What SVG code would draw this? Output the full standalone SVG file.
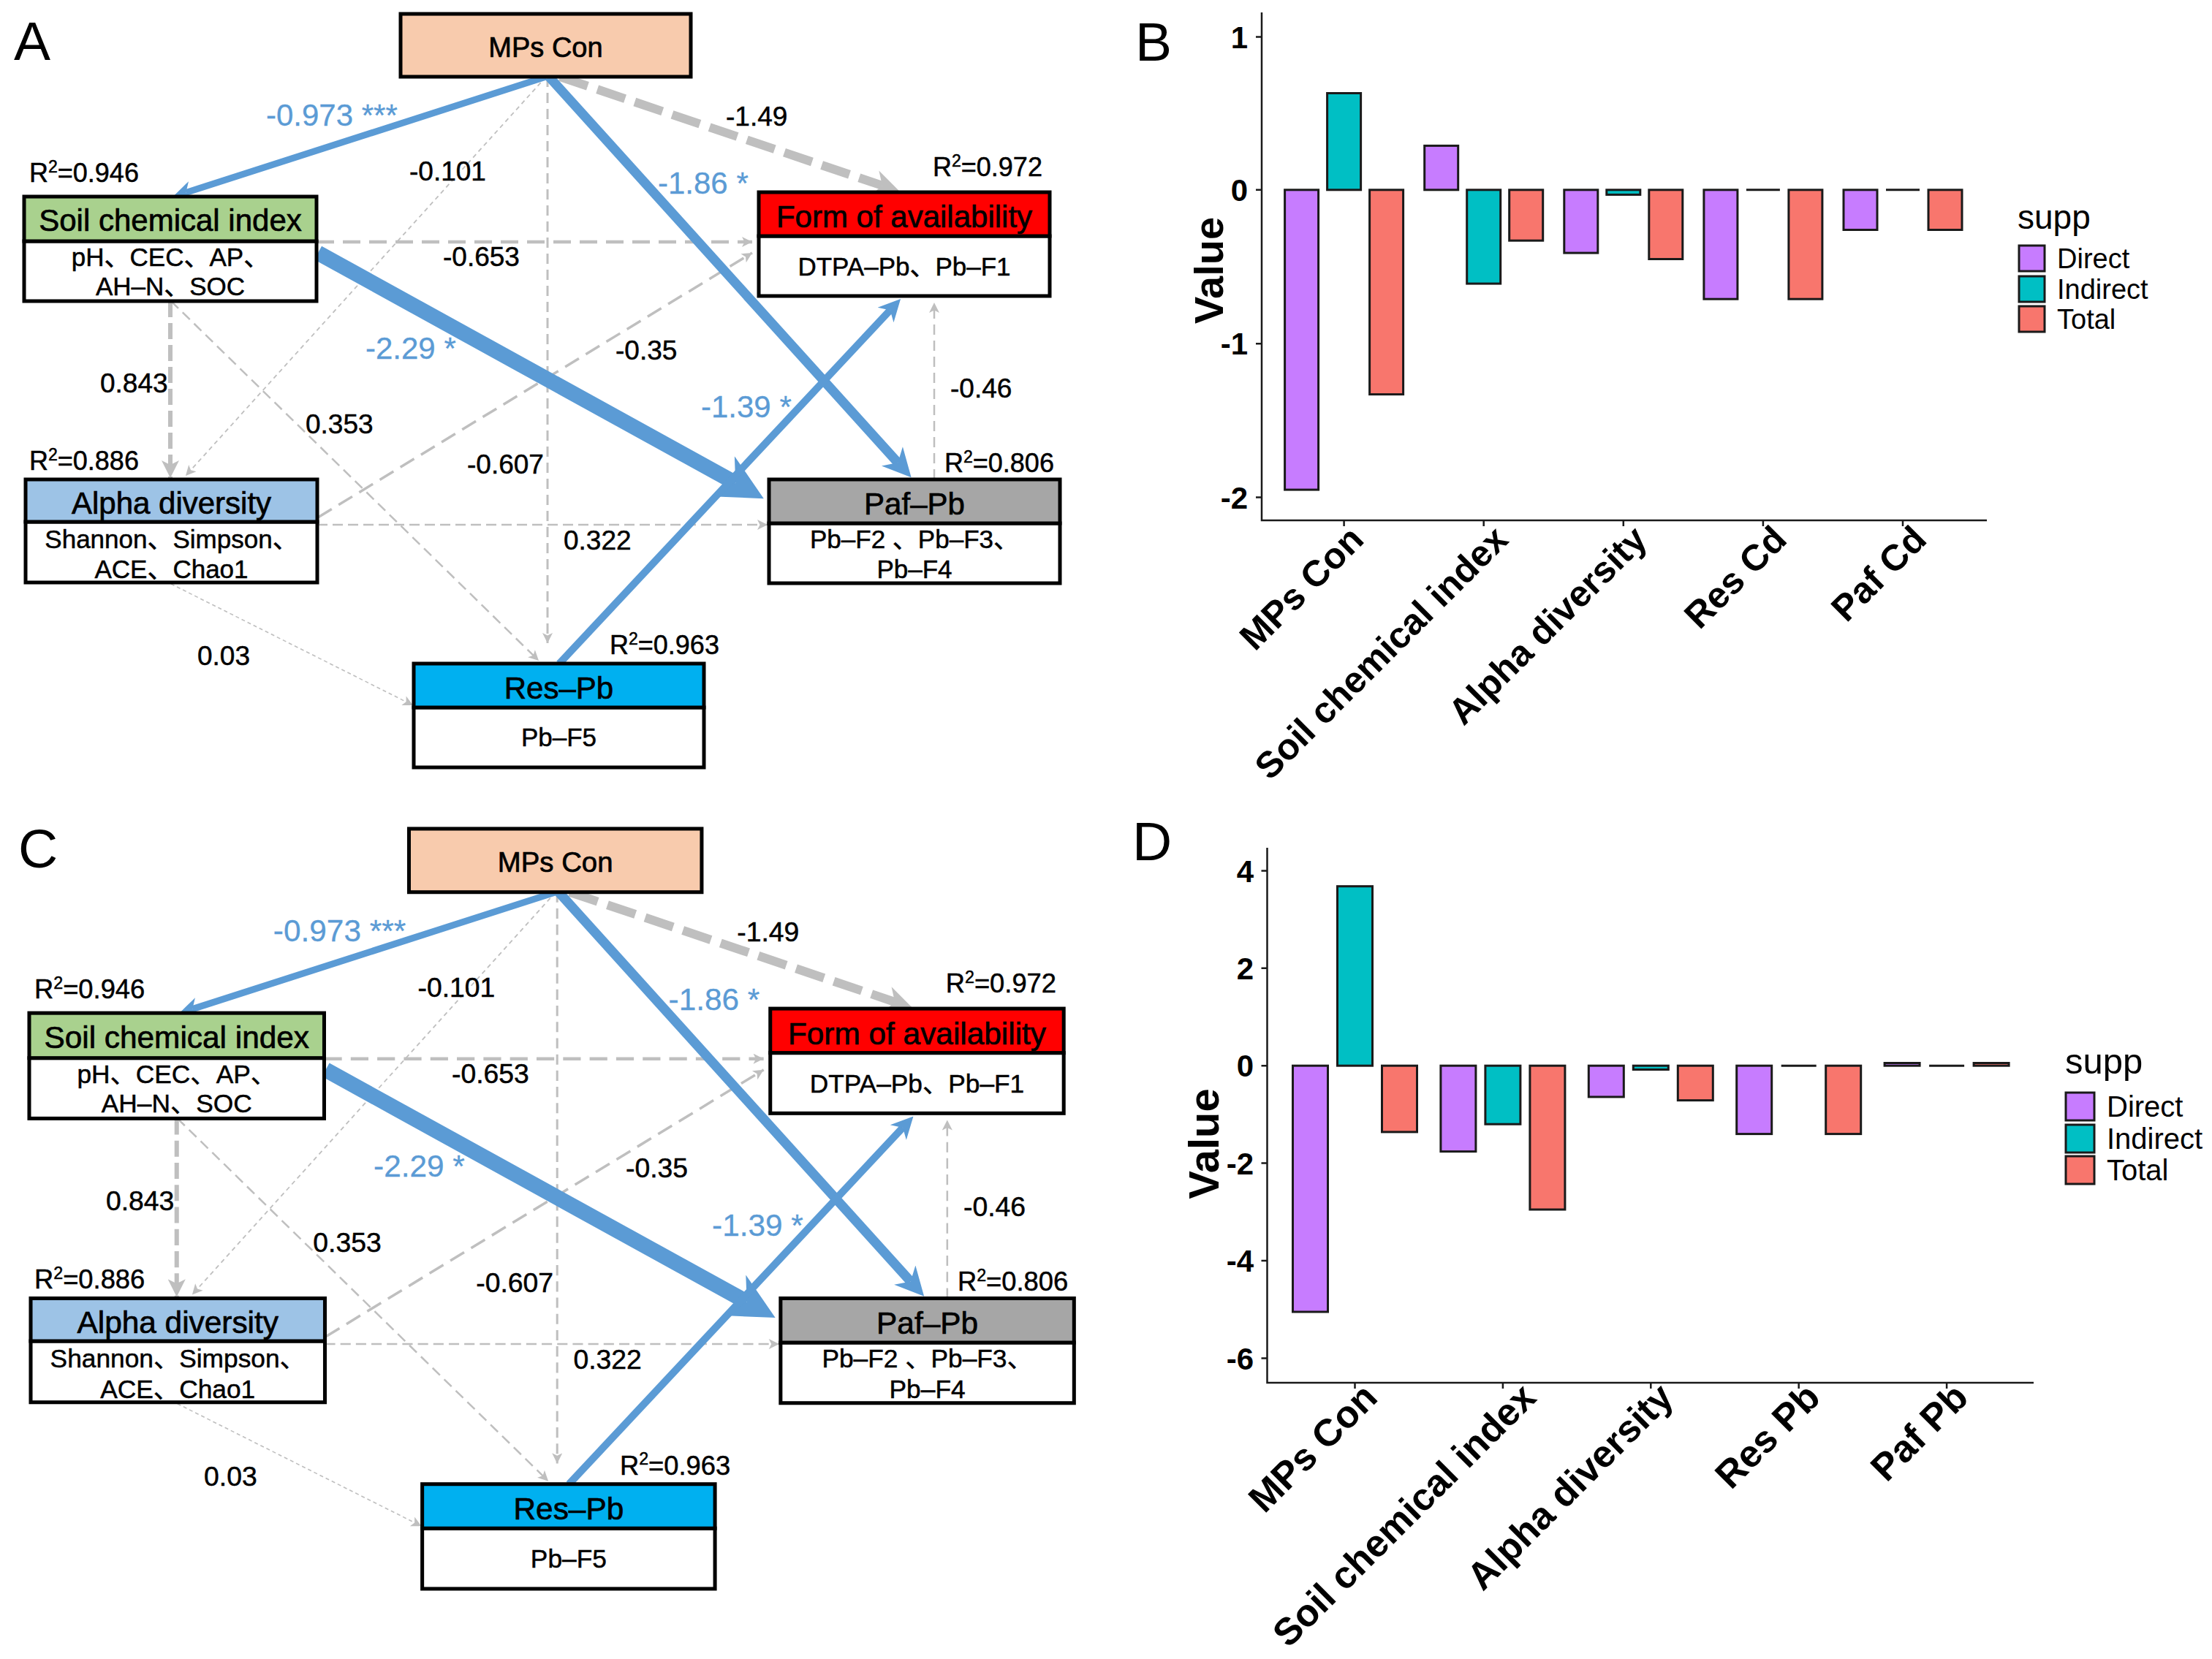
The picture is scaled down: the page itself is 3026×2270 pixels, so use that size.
<svg xmlns="http://www.w3.org/2000/svg" width="3026" height="2270" viewBox="0 0 3026 2270">
<defs>
<style>
.t{font-family:"Liberation Sans","Noto Sans CJK SC",sans-serif;fill:#000}
.hd{font-size:42px;text-anchor:middle;stroke:#000;stroke-width:0.7}
.sb{font-size:35px;text-anchor:middle;stroke:#000;stroke-width:0.5}
.lb{font-size:37px;stroke:#000;stroke-width:0.5}
.r2{font-size:36px;stroke:#000;stroke-width:0.5}
.bl{font-size:42px;fill:#5B9BD5;stroke:#5B9BD5;stroke-width:0.3}
.nb{stroke:#000;stroke-width:5}
.eb{fill:none;stroke:#5B9BD5;marker-end:url(#mb)}
.eg{fill:none;stroke:#BFBFBF}
.ax{fill:none;stroke:#1a1a1a;stroke-width:2.5}
.bar{stroke:#1a1a1a;stroke-width:3}
.d{fill:#C77CFF}.i{fill:#00BFC4}.o{fill:#F8766D}
.ct{font-family:"Liberation Sans",Arial,sans-serif;font-weight:bold;fill:#000}
.lg{font-family:"Liberation Sans",Arial,sans-serif;fill:#000}
.pl{font-family:"Liberation Sans",Arial,sans-serif;font-size:75px;fill:#000}
</style>
<marker id="mb" viewBox="0 0 10 10" refX="3" refY="5" markerWidth="3.4" markerHeight="3" orient="auto" markerUnits="strokeWidth"><path d="M0,0L10,5L0,10L3,5z" fill="#5B9BD5"/></marker>
<marker id="mg" viewBox="0 0 10 10" refX="3" refY="5" markerWidth="3.4" markerHeight="3" orient="auto" markerUnits="strokeWidth"><path d="M0,0L10,5L0,10L3,5z" fill="#BFBFBF"/></marker>
<marker id="ms" viewBox="0 0 10 10" refX="10" refY="5" markerWidth="17" markerHeight="14" orient="auto" markerUnits="userSpaceOnUse"><path d="M0,0L10,5L0,10L2.5,5z" fill="#BFBFBF"/></marker>
<marker id="mm" viewBox="0 0 10 10" refX="10" refY="5" markerWidth="28" markerHeight="24" orient="auto" markerUnits="userSpaceOnUse"><path d="M0,0L10,5L0,10L2.5,5z" fill="#BFBFBF"/></marker>
</defs>
<rect width="3026" height="2270" fill="#fff"/>

<!-- Panel letters -->
<text class="pl" x="19" y="82">A</text>
<text class="pl" x="1553" y="83">B</text>
<text class="pl" x="25" y="1187">C</text>
<text class="pl" x="1549" y="1177">D</text>

<!-- ============ Panel A ============ -->
<g id="panelA">
<g id="A-connectors">
<path id="A-e-mps-res" class="eg" d="M749,105V880" stroke-width="3" stroke-dasharray="14 8" marker-end="url(#ms)"/>
<path id="A-e-mps-alpha" class="eg" d="M747,105L254,651" stroke-width="1.8" stroke-dasharray="6 5" marker-end="url(#ms)"/>
<path id="A-e-soil-form" class="eg" d="M433,331H1029" stroke-width="4.5" stroke-dasharray="24 12" marker-end="url(#ms)"/>
<path id="A-e-soil-alpha" class="eg" d="M233,412V654" stroke-width="6" stroke-dasharray="22 8" marker-end="url(#mm)"/>
<path id="A-e-soil-res" class="eg" d="M234,412L737,904" stroke-width="2.5" stroke-dasharray="14 8" marker-end="url(#ms)"/>
<path id="A-e-alpha-form" class="eg" d="M435,708L1029,346" stroke-width="3.5" stroke-dasharray="22 11" marker-end="url(#ms)"/>
<path id="A-e-alpha-paf" class="eg" d="M434,718H1050" stroke-width="2.5" stroke-dasharray="14 7" marker-end="url(#ms)"/>
<path id="A-e-alpha-res" class="eg" d="M234,799L565,965" stroke-width="1.6" stroke-dasharray="5 4" marker-end="url(#ms)"/>
<path id="A-e-paf-form" class="eg" d="M1278,656V414" stroke-width="2.5" stroke-dasharray="14 8" marker-end="url(#ms)"/>
<path id="A-e-mps-form" class="eg" d="M766,105L1206.9,253.9" stroke-width="12" stroke-dasharray="40 14" marker-end="url(#mg)"/>
<path id="A-e-mps-soil" class="eb" d="M747,105L254.4,263.5" stroke-width="9"/>
<path id="A-e-mps-paf" class="eb" d="M751,105L1228.3,633.1" stroke-width="13"/>
<path id="A-e-soil-paf" class="eb" d="M435,346L1006.2,660.9" stroke-width="21"/>
<path id="A-e-res-form" class="eb" d="M765,908L1217.7,424.4" stroke-width="10"/>
</g>
<g id="A-mps"><rect class="nb" x="548" y="19" width="397" height="86" fill="#F8CBAD"/><text class="t hd" x="746.5" y="78" style="font-size:38px">MPs Con</text></g>
<g id="A-soil"><rect class="nb" x="33" y="330" width="400" height="82" fill="#fff"/><rect class="nb" x="33" y="269" width="400" height="61" fill="#A9D18E"/><text class="t hd" x="233" y="316">Soil chemical index</text><text class="t sb" x="233" y="364">pH、CEC、AP、</text><text class="t sb" x="233" y="404">AH–N、SOC</text></g>
<g id="A-form"><rect class="nb" x="1038" y="323" width="398" height="82" fill="#fff"/><rect class="nb" x="1038" y="263" width="398" height="60" fill="#FF0000"/><text class="t hd" x="1237" y="311">Form of availability</text><text class="t sb" x="1237" y="377">DTPA–Pb、Pb–F1</text></g>
<g id="A-alpha"><rect class="nb" x="35" y="714" width="399" height="83" fill="#fff"/><rect class="nb" x="35" y="656" width="399" height="58" fill="#9DC3E6"/><text class="t hd" x="234.5" y="703">Alpha diversity</text><text class="t sb" x="234.5" y="750">Shannon、Simpson、</text><text class="t sb" x="234.5" y="791">ACE、Chao1</text></g>
<g id="A-paf"><rect class="nb" x="1052" y="716" width="398" height="82" fill="#fff"/><rect class="nb" x="1052" y="656" width="398" height="60" fill="#A6A6A6"/><text class="t hd" x="1251" y="704">Paf–Pb</text><text class="t sb" x="1251" y="750">Pb–F2 、Pb–F3、</text><text class="t sb" x="1251" y="791">Pb–F4</text></g>
<g id="A-res"><rect class="nb" x="566" y="968" width="397" height="82" fill="#fff"/><rect class="nb" x="566" y="908" width="397" height="60" fill="#00B0F0"/><text class="t hd" x="764.5" y="956">Res–Pb</text><text class="t sb" x="764.5" y="1021">Pb–F5</text></g>
<g id="A-labels">
<text class="t lb" x="993" y="172">-1.49</text>
<text class="t lb" x="560" y="247">-0.101</text>
<text class="t lb" x="606" y="364">-0.653</text>
<text class="t lb" x="842" y="492">-0.35</text>
<text class="t lb" x="137" y="537">0.843</text>
<text class="t lb" x="418" y="593">0.353</text>
<text class="t lb" x="639" y="648">-0.607</text>
<text class="t lb" x="1300" y="544">-0.46</text>
<text class="t lb" x="771" y="752">0.322</text>
<text class="t lb" x="270" y="910">0.03</text>
<text class="t bl" x="364" y="172">-0.973 ***</text>
<text class="t bl" x="900" y="265">-1.86 *</text>
<text class="t bl" x="500" y="491">-2.29 *</text>
<text class="t bl" x="959" y="571">-1.39 *</text>
<text class="t r2" x="40" y="249">R<tspan dy="-13" font-size="23">2</tspan><tspan dy="13">=0.946</tspan></text>
<text class="t r2" x="1276" y="241">R<tspan dy="-13" font-size="23">2</tspan><tspan dy="13">=0.972</tspan></text>
<text class="t r2" x="40" y="643">R<tspan dy="-13" font-size="23">2</tspan><tspan dy="13">=0.886</tspan></text>
<text class="t r2" x="1292" y="646">R<tspan dy="-13" font-size="23">2</tspan><tspan dy="13">=0.806</tspan></text>
<text class="t r2" x="834" y="895">R<tspan dy="-13" font-size="23">2</tspan><tspan dy="13">=0.963</tspan></text>
</g>
</g>

<!-- ============ Panel C ============ -->
<g id="panelC" transform="translate(6.7,1114.8) scale(1.0087)">
<g id="C-connectors">
<path id="C-e-mps-res" class="eg" d="M749,105V880" stroke-width="3" stroke-dasharray="14 8" marker-end="url(#ms)"/>
<path id="C-e-mps-alpha" class="eg" d="M747,105L254,651" stroke-width="1.8" stroke-dasharray="6 5" marker-end="url(#ms)"/>
<path id="C-e-soil-form" class="eg" d="M433,331H1029" stroke-width="4.5" stroke-dasharray="24 12" marker-end="url(#ms)"/>
<path id="C-e-soil-alpha" class="eg" d="M233,412V654" stroke-width="6" stroke-dasharray="22 8" marker-end="url(#mm)"/>
<path id="C-e-soil-res" class="eg" d="M234,412L737,904" stroke-width="2.5" stroke-dasharray="14 8" marker-end="url(#ms)"/>
<path id="C-e-alpha-form" class="eg" d="M435,708L1029,346" stroke-width="3.5" stroke-dasharray="22 11" marker-end="url(#ms)"/>
<path id="C-e-alpha-paf" class="eg" d="M434,718H1050" stroke-width="2.5" stroke-dasharray="14 7" marker-end="url(#ms)"/>
<path id="C-e-alpha-res" class="eg" d="M234,799L565,965" stroke-width="1.6" stroke-dasharray="5 4" marker-end="url(#ms)"/>
<path id="C-e-paf-form" class="eg" d="M1278,656V414" stroke-width="2.5" stroke-dasharray="14 8" marker-end="url(#ms)"/>
<path id="C-e-mps-form" class="eg" d="M766,105L1206.9,253.9" stroke-width="12" stroke-dasharray="40 14" marker-end="url(#mg)"/>
<path id="C-e-mps-soil" class="eb" d="M747,105L254.4,263.5" stroke-width="9"/>
<path id="C-e-mps-paf" class="eb" d="M751,105L1228.3,633.1" stroke-width="13"/>
<path id="C-e-soil-paf" class="eb" d="M435,346L1006.2,660.9" stroke-width="21"/>
<path id="C-e-res-form" class="eb" d="M765,908L1217.7,424.4" stroke-width="10"/>
</g>
<g id="C-mps"><rect class="nb" x="548" y="19" width="397" height="86" fill="#F8CBAD"/><text class="t hd" x="746.5" y="78" style="font-size:38px">MPs Con</text></g>
<g id="C-soil"><rect class="nb" x="33" y="330" width="400" height="82" fill="#fff"/><rect class="nb" x="33" y="269" width="400" height="61" fill="#A9D18E"/><text class="t hd" x="233" y="316">Soil chemical index</text><text class="t sb" x="233" y="364">pH、CEC、AP、</text><text class="t sb" x="233" y="404">AH–N、SOC</text></g>
<g id="C-form"><rect class="nb" x="1038" y="323" width="398" height="82" fill="#fff"/><rect class="nb" x="1038" y="263" width="398" height="60" fill="#FF0000"/><text class="t hd" x="1237" y="311">Form of availability</text><text class="t sb" x="1237" y="377">DTPA–Pb、Pb–F1</text></g>
<g id="C-alpha"><rect class="nb" x="35" y="714" width="399" height="83" fill="#fff"/><rect class="nb" x="35" y="656" width="399" height="58" fill="#9DC3E6"/><text class="t hd" x="234.5" y="703">Alpha diversity</text><text class="t sb" x="234.5" y="750">Shannon、Simpson、</text><text class="t sb" x="234.5" y="791">ACE、Chao1</text></g>
<g id="C-paf"><rect class="nb" x="1052" y="716" width="398" height="82" fill="#fff"/><rect class="nb" x="1052" y="656" width="398" height="60" fill="#A6A6A6"/><text class="t hd" x="1251" y="704">Paf–Pb</text><text class="t sb" x="1251" y="750">Pb–F2 、Pb–F3、</text><text class="t sb" x="1251" y="791">Pb–F4</text></g>
<g id="C-res"><rect class="nb" x="566" y="968" width="397" height="82" fill="#fff"/><rect class="nb" x="566" y="908" width="397" height="60" fill="#00B0F0"/><text class="t hd" x="764.5" y="956">Res–Pb</text><text class="t sb" x="764.5" y="1021">Pb–F5</text></g>
<g id="C-labels">
<text class="t lb" x="993" y="172">-1.49</text>
<text class="t lb" x="560" y="247">-0.101</text>
<text class="t lb" x="606" y="364">-0.653</text>
<text class="t lb" x="842" y="492">-0.35</text>
<text class="t lb" x="137" y="537">0.843</text>
<text class="t lb" x="418" y="593">0.353</text>
<text class="t lb" x="639" y="648">-0.607</text>
<text class="t lb" x="1300" y="544">-0.46</text>
<text class="t lb" x="771" y="752">0.322</text>
<text class="t lb" x="270" y="910">0.03</text>
<text class="t bl" x="364" y="172">-0.973 ***</text>
<text class="t bl" x="900" y="265">-1.86 *</text>
<text class="t bl" x="500" y="491">-2.29 *</text>
<text class="t bl" x="959" y="571">-1.39 *</text>
<text class="t r2" x="40" y="249">R<tspan dy="-13" font-size="23">2</tspan><tspan dy="13">=0.946</tspan></text>
<text class="t r2" x="1276" y="241">R<tspan dy="-13" font-size="23">2</tspan><tspan dy="13">=0.972</tspan></text>
<text class="t r2" x="40" y="643">R<tspan dy="-13" font-size="23">2</tspan><tspan dy="13">=0.886</tspan></text>
<text class="t r2" x="1292" y="646">R<tspan dy="-13" font-size="23">2</tspan><tspan dy="13">=0.806</tspan></text>
<text class="t r2" x="834" y="895">R<tspan dy="-13" font-size="23">2</tspan><tspan dy="13">=0.963</tspan></text>
</g>
</g>

<!-- ============ Panel B ============ -->
<g id="panelB">
<g id="B-bars">
<rect class="bar d" x="1757.6" y="259.8" width="46" height="410.3"/>
<rect class="bar i" x="1815.6" y="127.5" width="46" height="132.3"/>
<rect class="bar o" x="1873.6" y="259.8" width="46" height="279.8"/>
<rect class="bar d" x="1948.7" y="199.4" width="46" height="60.4"/>
<rect class="bar i" x="2006.7" y="259.8" width="46" height="128.3"/>
<rect class="bar o" x="2064.7" y="259.8" width="46" height="69.4"/>
<rect class="bar d" x="2139.8" y="259.8" width="46" height="86.3"/>
<rect class="bar i" x="2197.8" y="259.8" width="46" height="6.6"/>
<rect class="bar o" x="2255.8" y="259.8" width="46" height="94.7"/>
<rect class="bar d" x="2330.9" y="259.8" width="46" height="149.4"/>
<line class="bar" x1="2388.9" y1="259.8" x2="2434.9" y2="259.8"/>
<rect class="bar o" x="2446.9" y="259.8" width="46" height="149.4"/>
<rect class="bar d" x="2522" y="259.8" width="46" height="54.7"/>
<line class="bar" x1="2580" y1="259.8" x2="2626" y2="259.8"/>
<rect class="bar o" x="2638" y="259.8" width="46" height="54.7"/>
</g>
<g id="B-axes">
<path class="ax" d="M1726,17V712H2718"/>
<path class="ax" d="M1718,50.6H1726M1718,259.8H1726M1718,470.2H1726M1718,680.6H1726M1838.6,712V720M2029.7,712V720M2220.8,712V720M2411.9,712V720M2603,712V720"/>
<g class="ct" font-size="42" text-anchor="end">
<text x="1707" y="66">1</text><text x="1707" y="275">0</text><text x="1707" y="485">-1</text><text x="1707" y="696">-2</text>
</g>
<text class="ct" font-size="56" text-anchor="middle" transform="translate(1673,370) rotate(-90)">Value</text>
<g class="ct" font-size="50" text-anchor="end">
<text transform="translate(1868,741) rotate(-45)">MPs Con</text>
<text transform="translate(2065.7,741) rotate(-45)">Soil chemical index</text>
<text transform="translate(2255.8,741) rotate(-45)">Alpha diversity</text>
<text transform="translate(2446.9,741) rotate(-45)">Res Cd</text>
<text transform="translate(2638,741) rotate(-45)">Paf Cd</text>
</g>
</g>
<g id="B-legend">
<text class="lg" x="2760" y="313" font-size="46">supp</text>
<rect class="bar d" x="2762" y="336" width="35" height="35"/>
<rect class="bar i" x="2762" y="378" width="35" height="35"/>
<rect class="bar o" x="2762" y="419" width="35" height="35"/>
<text class="lg" x="2814" y="367" font-size="38">Direct</text>
<text class="lg" x="2814" y="409" font-size="38">Indirect</text>
<text class="lg" x="2814" y="450" font-size="38">Total</text>
</g>
</g>

<!-- ============ Panel D ============ -->
<g id="panelD">
<g id="D-bars">
<rect class="bar d" x="1768.5" y="1458.2" width="48" height="336.8"/>
<rect class="bar i" x="1829.5" y="1212.7" width="48" height="245.5"/>
<rect class="bar o" x="1890.5" y="1458.2" width="48" height="90.7"/>
<rect class="bar d" x="1970.9" y="1458.2" width="48" height="117.4"/>
<rect class="bar i" x="2031.9" y="1458.2" width="48" height="80"/>
<rect class="bar o" x="2092.9" y="1458.2" width="48" height="196.8"/>
<rect class="bar d" x="2173.3" y="1458.2" width="48" height="42.7"/>
<rect class="bar i" x="2234.3" y="1458.2" width="48" height="5.3"/>
<rect class="bar o" x="2295.3" y="1458.2" width="48" height="47.4"/>
<rect class="bar d" x="2375.7" y="1458.2" width="48" height="93.4"/>
<line class="bar" x1="2436.7" y1="1458.2" x2="2484.7" y2="1458.2"/>
<rect class="bar o" x="2497.7" y="1458.2" width="48" height="93.4"/>
<rect class="bar d" x="2578.1" y="1454.5" width="48" height="3.7"/>
<line class="bar" x1="2639.1" y1="1458.2" x2="2687.1" y2="1458.2"/>
<rect class="bar o" x="2700.1" y="1454.5" width="48" height="3.7"/>
</g>
<g id="D-axes">
<path class="ax" d="M1733.5,1160V1892H2782"/>
<path class="ax" d="M1725.5,1191.4H1733.5M1725.5,1324.8H1733.5M1725.5,1458.2H1733.5M1725.5,1591.6H1733.5M1725.5,1725H1733.5M1725.5,1858.4H1733.5M1853.5,1892V1900M2055.9,1892V1900M2258.3,1892V1900M2460.7,1892V1900M2663.1,1892V1900"/>
<g class="ct" font-size="42" text-anchor="end">
<text x="1715" y="1206.5">4</text><text x="1715" y="1340">2</text><text x="1715" y="1473">0</text><text x="1715" y="1606.5">-2</text><text x="1715" y="1740">-4</text><text x="1715" y="1873.5">-6</text>
</g>
<text class="ct" font-size="58" text-anchor="middle" transform="translate(1667,1565) rotate(-90)">Value</text>
<g class="ct" font-size="52" text-anchor="end">
<text transform="translate(1887,1915) rotate(-45)">MPs Con</text>
<text transform="translate(2104,1915) rotate(-45)">Soil chemical index</text>
<text transform="translate(2292,1915) rotate(-45)">Alpha diversity</text>
<text transform="translate(2492.7,1915) rotate(-45)">Res Pb</text>
<text transform="translate(2695.1,1915) rotate(-45)">Paf Pb</text>
</g>
</g>
<g id="D-legend">
<text class="lg" x="2825" y="1469" font-size="49">supp</text>
<rect class="bar d" x="2826" y="1495" width="39" height="38"/>
<rect class="bar i" x="2826" y="1539" width="39" height="38"/>
<rect class="bar o" x="2826" y="1582" width="39" height="38"/>
<text class="lg" x="2882" y="1528" font-size="40">Direct</text>
<text class="lg" x="2882" y="1572" font-size="40">Indirect</text>
<text class="lg" x="2882" y="1615" font-size="40">Total</text>
</g>
</g>
</svg>
